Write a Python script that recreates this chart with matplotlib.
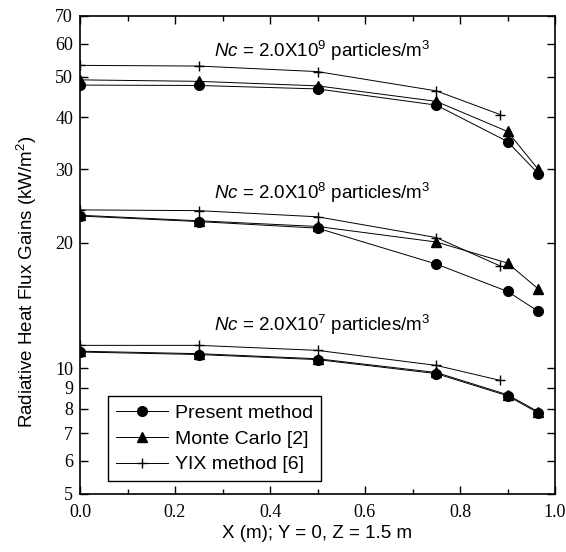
import matplotlib
matplotlib.use("Agg")
import matplotlib.pyplot as plt
from matplotlib.ticker import FixedLocator, FixedFormatter, MultipleLocator, NullLocator
from matplotlib.lines import Line2D

# ---- data ----
x_main = [0.0, 0.25, 0.5, 0.75, 0.9, 0.965]
x_yix = [0.0, 0.25, 0.5, 0.75, 0.885]

# Nc = 2.0e9
present_9 = [47.8, 47.7, 46.8, 42.8, 35.0, 29.3]
mc_9 = [49.2, 48.8, 47.6, 43.7, 37.0, 30.0]
yix_9 = [53.3, 53.1, 51.5, 46.3, 40.6]

# Nc = 2.0e8
present_8 = [23.2, 22.5, 21.7, 17.8, 15.3, 13.7]
mc_8 = [23.3, 22.6, 21.9, 20.1, 17.9, 15.5]
yix_8 = [24.0, 23.9, 23.1, 20.6, 17.6]

# Nc = 2.0e7
present_7 = [10.95, 10.8, 10.5, 9.72, 8.6, 7.82]
mc_7 = [11.0, 10.85, 10.55, 9.78, 8.65, 7.87]
yix_7 = [11.36, 11.36, 11.05, 10.17, 9.36]

ytick_vals = [5, 6, 7, 8, 9, 10, 20, 30, 40, 50, 60, 70]
ytick_labels = [str(v) for v in ytick_vals]
xtick_vals = [0.0, 0.2, 0.4, 0.6, 0.8, 1.0]
xtick_labels = ["0.0", "0.2", "0.4", "0.6", "0.8", "1.0"]

legend_labels = ["Present method", "Monte Carlo [2]", "YIX method [6]"]
annotation_exps = ["9", "8", "7"]

# ---- plot ----
plt.rcParams["mathtext.fontset"] = "custom"
plt.rcParams["mathtext.rm"] = "Liberation Sans"
plt.rcParams["mathtext.it"] = "Liberation Sans:italic"

W, H = 566, 552
fig = plt.figure(figsize=(W / 100, H / 100), dpi=100)
ax = fig.add_axes([80 / W, 1 - 494 / H, 475 / W, 478 / H])

sans = ["Liberation Sans", "DejaVu Sans"]
serif = ["Liberation Serif", "DejaVu Serif"]

lw = 0.7
ms_c = 7.0
ms_t = 7.5
ms_p = 7.5

for pres, mc, yix in [(present_9, mc_9, yix_9), (present_8, mc_8, yix_8), (present_7, mc_7, yix_7)]:
    ax.plot(x_main, mc, color="black", lw=lw, marker="^", ms=ms_t, mec="black", mfc="black")
    ax.plot(x_main, pres, color="black", lw=lw, marker="o", ms=ms_c, mec="black", mfc="black")
    ax.plot(x_yix, yix, color="black", lw=lw, marker="+", ms=ms_p, mew=1.0)

ax.set_yscale("log")
ax.set_xlim(0.0, 1.0)
ax.set_ylim(5, 70)

ax.yaxis.set_major_locator(FixedLocator(ytick_vals))
ax.yaxis.set_major_formatter(FixedFormatter(ytick_labels))
ax.yaxis.set_minor_locator(NullLocator())
ax.xaxis.set_major_locator(FixedLocator(xtick_vals))
ax.xaxis.set_major_formatter(FixedFormatter(xtick_labels))
ax.xaxis.set_minor_locator(MultipleLocator(0.1))

ax.tick_params(which="both", direction="in", top=True, right=True, width=1.0)
ax.tick_params(which="major", length=6)
ax.tick_params(which="minor", length=3.5)
ax.tick_params(axis="x", pad=7)
ax.tick_params(axis="y", pad=5)
for lab in ax.get_xticklabels() + ax.get_yticklabels():
    lab.set_fontfamily(serif)
    lab.set_fontsize(13)

for sp in ax.spines.values():
    sp.set_linewidth(1.2)

# Labels
fig.text(317 / W, 1 - 533 / H, "X (m); Y = 0, Z = 1.5 m", ha="center", va="center",
         fontsize=13.5, family=sans)
fig.text(27 / W, 1 - 282 / H, "Radiative Heat Flux Gains (kW/m$^2$)", ha="center", va="center",
         rotation=90, fontsize=13.5, family=sans)

for yp, exp in zip([51, 193, 325], annotation_exps):
    fig.text(322 / W, 1 - yp / H,
             r"$\mathit{Nc}$ = 2.0X10$^{" + exp + r"}$ particles/m$^3$",
             ha="center", va="center", fontsize=13.5, family=sans)

# Legend
handles = [
    Line2D([], [], color="black", lw=lw, marker="o", ms=ms_c),
    Line2D([], [], color="black", lw=lw, marker="^", ms=ms_t),
    Line2D([], [], color="black", lw=lw, marker="+", ms=ms_p, mew=1.0),
]
leg = ax.legend(handles, legend_labels,
                loc="lower left", bbox_to_anchor=(0.059, 0.027), frameon=True, fancybox=False,
                edgecolor="black", framealpha=1, borderaxespad=0, handlelength=2.7,
                handletextpad=0.36, labelspacing=0.42, borderpad=0.4,
                prop={"family": sans, "size": 14})
leg.get_frame().set_linewidth(1.0)

fig.savefig("out.png", dpi=100)
